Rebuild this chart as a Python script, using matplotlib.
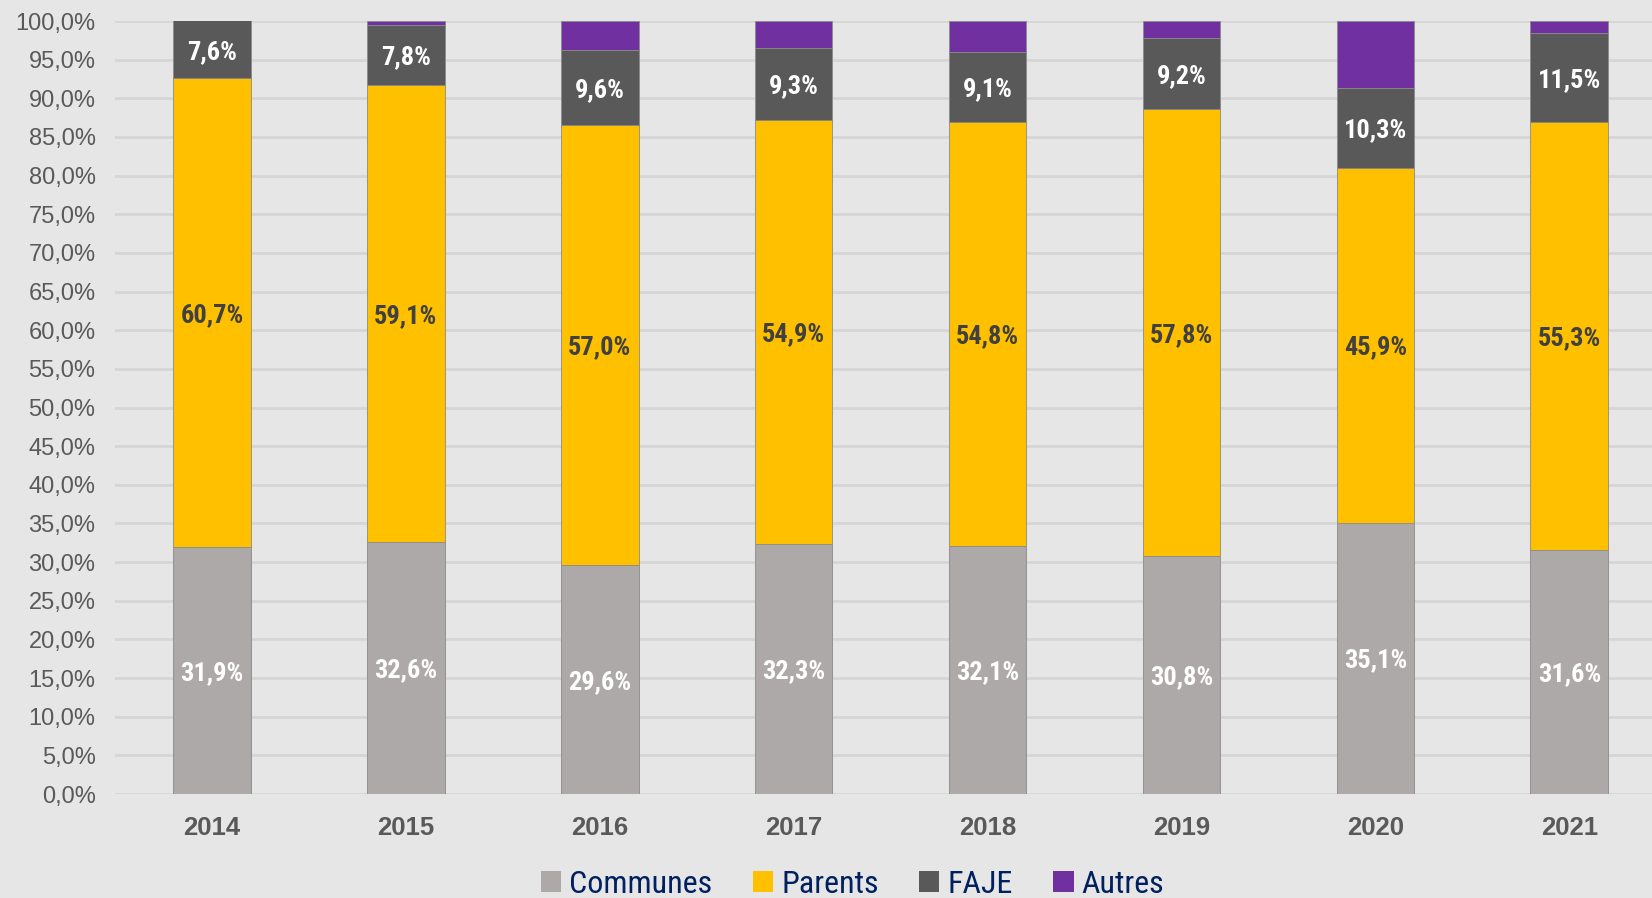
import numpy as np
import matplotlib
matplotlib.use('Agg')
import matplotlib.pyplot as plt
from matplotlib.patches import Patch

# ── Data ───────────────────────────────────────────────────────────────────
years    = ['2014', '2015', '2016', '2017', '2018', '2019', '2020', '2021']
communes = [31.9, 32.6, 29.6, 32.3, 32.1, 30.8, 35.1, 31.6]
parents  = [60.7, 59.1, 57.0, 54.9, 54.8, 57.8, 45.9, 55.3]
faje     = [7.6, 7.8, 9.6, 9.3, 9.1, 9.2, 10.3, 11.5]
autres   = [0.0, 0.5, 3.8, 3.5, 4.0, 2.2, 8.7, 1.6]

series = [
    ('Communes', communes, '#ADA9A8', 'white'),
    ('Parents',  parents,  '#FFC000', '#404040'),
    ('FAJE',     faje,     '#595959', 'white'),
    ('Autres',   autres,   '#7030A0', None),
]

BG = '#E6E6E6'
NARROW = ['Liberation Sans Narrow', 'Arimo Narrow', 'Roboto Condensed',
          'Archivo Narrow', 'Liberation Sans', 'DejaVu Sans']

fig = plt.figure(figsize=(16.52, 8.98), dpi=100, facecolor=BG)
ax = fig.add_axes([0.0696, 0.1158, 0.939, 0.8608], facecolor=BG)

x = np.arange(len(years))
bottom = np.zeros(len(years))
for name, vals, color, txt in series:
    vals = np.array(vals)
    ax.bar(x, vals, 0.4, bottom=bottom, color=color, edgecolor='#8a8a8a',
           linewidth=0.6, zorder=3)
    if txt:
        for xi, b, v in zip(x, bottom, vals):
            # centre of the visible part of the segment, nudged like Excel does
            yc = (b + min(b + v, 100)) / 2 - 0.3
            ax.text(xi, yc, f'{v:.1f}%'.replace('.', ','), ha='center', va='center',
                    color=txt, fontsize=19, fontweight='bold', family=NARROW,
                    zorder=4)
    bottom += vals

ax.set_xlim(-0.5, len(years) - 0.5)
ax.set_ylim(0, 100)
ax.set_yticks(np.arange(0, 101, 5))
ax.set_yticklabels([f'{v:.1f}%'.replace('.', ',') for v in np.arange(0, 101, 5)])
ax.set_xticks(x)
ax.set_xticklabels(years, fontweight='bold')
ax.tick_params(axis='y', length=0, pad=14, labelsize=17, labelcolor='#595959')
ax.tick_params(axis='x', length=0, pad=16, labelsize=18.5, labelcolor='#595959')
for lab in ax.get_xticklabels() + ax.get_yticklabels():
    lab.set_family(['Liberation Sans', 'DejaVu Sans'])

ax.yaxis.grid(True, color='#D6D6D6', linewidth=2, zorder=0)
ax.set_axisbelow(True)
for s in ax.spines.values():
    s.set_visible(False)

handles = [Patch(facecolor=c, edgecolor='none', label=n) for n, _, c, _ in series]
fig.legend(handles=handles, loc='center', bbox_to_anchor=(0.516, 0.015), ncol=4,
           frameon=False, handlelength=0.65, handleheight=0.65, handletextpad=0.25,
           columnspacing=1.25, prop={'family': NARROW, 'size': 23},
           labelcolor='#002060')

fig.savefig('out.png', dpi=100, facecolor=BG)
